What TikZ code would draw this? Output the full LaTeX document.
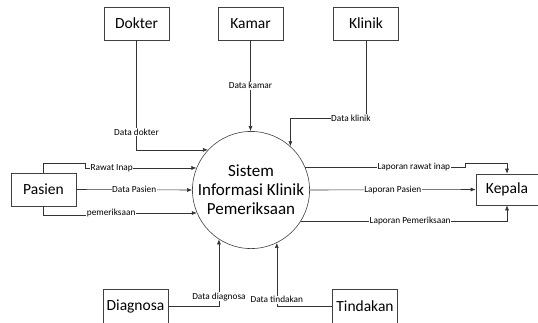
\documentclass[tikz,border=0pt]{standalone}
\usepackage{fontspec}
\setmainfont{Carlito}
\usetikzlibrary{calc}
\usetikzlibrary{arrows.meta}

\begin{document}
\begin{tikzpicture}[x=1pt, y=-1pt, line join=miter,
            entity/.style={draw=black!75, line width=0.6pt, minimum width=65pt, minimum height=33pt, inner sep=0pt, font=\fontsize{15.5}{17}\selectfont},
            process/.style={draw=black!75, line width=0.6pt, circle, minimum size=108pt, inner sep=0pt, align=center, font=\fontsize{17}{19}\selectfont},
            flow/.style={draw=black!80, line width=0.6pt, -{Latex[length=5pt,width=4pt]}},
            lbl/.style={fill=white, inner sep=0.6pt, font=\fontsize{9.3}{10}\selectfont}]
            \useasboundingbox (0,0) rectangle (538,322);

            % external entities
            \node[entity] (dokter) at (136.5,23.5) {Dokter};
            \node[entity] (kamar) at (250.5,23.5) {Kamar};
            \node[entity] (klinik) at (366,23.5) {Klinik};
            \node[entity] (pasien) at (43.5,189.5) {Pasien};
            \node[entity, minimum width=62pt, minimum height=31pt] (kepala) at (507,189.5) {Kepala};
            \node[entity, minimum height=34pt] (diagnosa) at (135.5,306) {Diagnosa};
            \node[entity, minimum height=34pt] (tindakan) at (365,306) {Tindakan};

            % process
            \node[process] (proc) at (251,190) {Sistem\\Informasi Klinik\\Pemeriksaan};

            % bends
            \coordinate (kbend) at ($(proc.48)+(0,-28)$);
            \coordinate (rbend) at (85,163);
            \coordinate (pbend) at (87,215);
            \coordinate (lbend) at (465,163);

            % data flows
            \draw[flow] (dokter.south) |- (proc.137) node[lbl, pos=0.42] {Data dokter};
            \draw[flow] (kamar.south) -- (kamar.south |- proc.north) node[lbl, midway] {Data kamar};
            \draw[flow] (klinik.south) |- (kbend) node[lbl, pos=0.6] {Data klinik} -- (proc.48);
            \draw[flow] (pasien.north) |- (rbend) |- (proc.158) node[lbl, pos=0.62] {Rawat Inap};
            \draw[flow] (pasien.east) -- (proc.west) node[lbl, midway] {Data Pasien};
            \draw[flow] (pasien.south) |- (pbend) |- (proc.203) node[lbl, pos=0.61] {pemeriksaan};
            \draw[flow] (proc.23) -| (lbend) node[lbl, pos=0.34] {Laporan rawat inap} -| (kepala.north);
            \draw[flow] (proc.east) -- (kepala.west) node[lbl, midway] {Laporan Pasien};
            \draw[flow] (proc.-32) -| (kepala.south) node[lbl, pos=0.265] {Laporan Pemeriksaan};
            \draw[flow] (diagnosa.east) -| (proc.237) node[lbl, pos=0.57] {Data diagnosa};
            \draw[flow] (tindakan.west) -| (proc.-64) node[lbl, pos=0.55] {Data tindakan};
\end{tikzpicture}
\end{document}
